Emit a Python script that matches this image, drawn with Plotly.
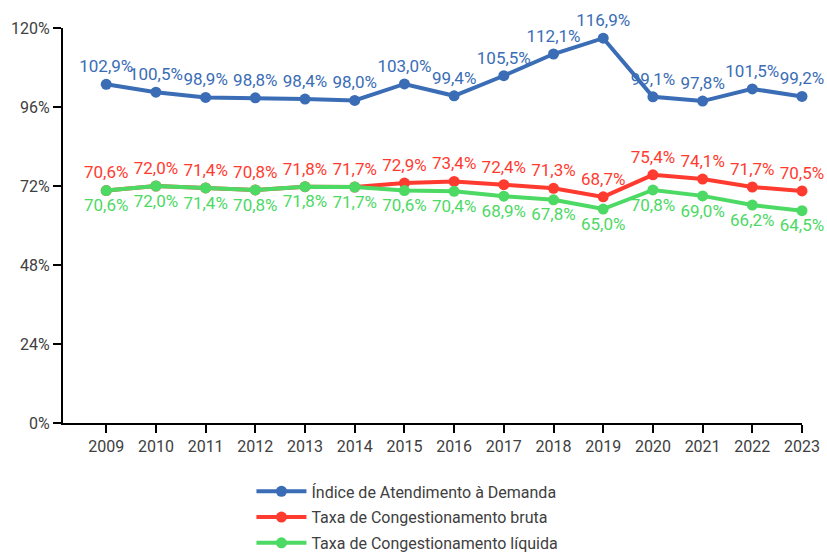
import plotly.graph_objects as go

years = list(range(2009, 2024))
atendimento = [102.9, 100.5, 98.9, 98.8, 98.4, 98.0, 103.0, 99.4, 105.5, 112.1, 116.9, 99.1, 97.8, 101.5, 99.2]
cong_bruta = [70.6, 72.0, 71.4, 70.8, 71.8, 71.7, 72.9, 73.4, 72.4, 71.3, 68.7, 75.4, 74.1, 71.7, 70.5]
cong_liquida = [70.6, 72.0, 71.4, 70.8, 71.8, 71.7, 70.6, 70.4, 68.9, 67.8, 65.0, 70.8, 69.0, 66.2, 64.5]
y_ticks = [0, 24, 48, 72, 96, 120]
y_labels = [f"{v}%" for v in y_ticks]

FONT = "Roboto, sans-serif"


def font(size, color):
    return dict(family=FONT, size=size, color=color)


series = [
    ("Índice de Atendimento à Demanda", atendimento, "#3a6db5", "top center"),
    ("Taxa de Congestionamento bruta", cong_bruta, "#ff3b30", "top center"),
    ("Taxa de Congestionamento líquida", cong_liquida, "#4cd964", "bottom center"),
]

fig = go.Figure()
for i, (name, vals, color, pos) in enumerate(series):
    fig.add_trace(go.Scatter(
        x=years, y=vals, name=name, mode="lines+markers+text",
        legendgroup=f"g{i}",
        line=dict(color=color, width=4),
        marker=dict(color=color, size=11),
        texttemplate="%{y:.1f}%", textposition=pos,
        textfont=font(17, color),
        cliponaxis=False,
    ))

fig.update_layout(
    width=827, height=553,
    margin=dict(l=63, r=25, t=28, b=130, autoexpand=False),
    paper_bgcolor="white", plot_bgcolor="white",
    separators=",.",
    font=font(16, "#404040"),
    showlegend=True,
    legend=dict(
        orientation="v", x=0.255, xanchor="left", y=-0.13, yanchor="top",
        font=font(16, "#404040"),
        itemwidth=50, tracegroupgap=2,
    ),
    xaxis=dict(
        range=[2009 - 0.87, 2023], tickvals=years, showgrid=False,
        showline=True, linecolor="black", linewidth=2,
        ticks="outside", ticklen=8, tickwidth=2, tickcolor="black",
        tickfont=font(16, "#404040"), zeroline=False,
    ),
    yaxis=dict(
        range=[0, 120], tickvals=y_ticks, ticktext=y_labels, showgrid=False,
        showline=True, linecolor="black", linewidth=2,
        ticks="outside", ticklen=8, tickwidth=2, tickcolor="black",
        tickfont=font(16, "#404040"), zeroline=False,
    ),
)

fig.write_html("out.html")
